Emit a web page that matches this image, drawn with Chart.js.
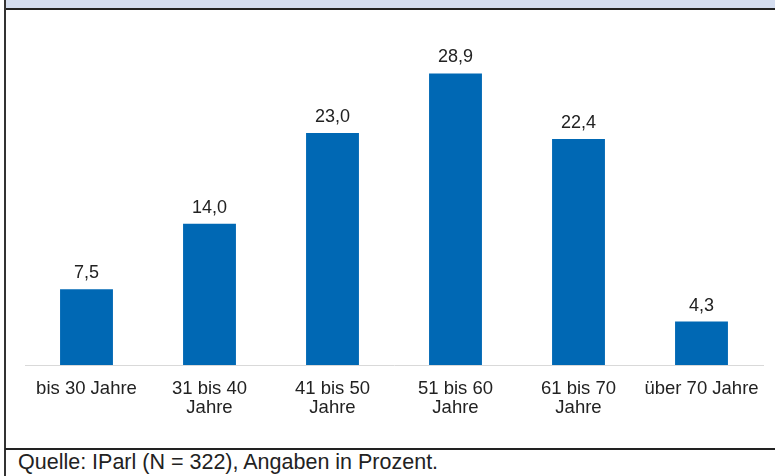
<!DOCTYPE html>
<html>
<head>
<meta charset="utf-8">
<script src="https://cdn.jsdelivr.net/npm/chart.js@4/dist/chart.umd.min.js"></script>
<style>
  body { margin: 0; background: #fff; width: 775px; height: 476px; overflow: hidden; position: relative; font-family: "Liberation Sans", Arial, sans-serif; }
  #band { position: absolute; left: 5px; top: 0; width: 770px; height: 8px; background: #d4ddef; border-bottom: 2px solid #222; }
  #frame { position: absolute; left: 4px; top: 0; width: 2px; height: 476px; background: #333; }
  #sep { position: absolute; left: 5px; top: 448px; width: 770px; height: 2px; background: #222; }
  #source { position: absolute; left: 18px; top: 450px; font-size: 21.5px; color: #222; white-space: nowrap; }
  #wrap { position: absolute; left: 0; top: 10px; width: 775px; height: 438px; }
</style>
</head>
<body>
<div id="band"></div>
<div id="frame"></div>
<div id="sep"></div>
<div id="wrap"><canvas id="chart"></canvas></div>
<div id="source">Quelle: IParl (N = 322), Angaben in Prozent.</div>
<script>
var categories = [
  'bis 30 Jahre',
  ['31 bis 40', 'Jahre'],
  ['41 bis 50', 'Jahre'],
  ['51 bis 60', 'Jahre'],
  ['61 bis 70', 'Jahre'],
  'über 70 Jahre'
];
var shares = [7.5, 14.0, 23.0, 28.9, 22.4, 4.3];

// draws the value above each bar, German decimal comma
var valueLabels = {
  id: 'valueLabels',
  afterDatasetsDraw: function(chart) {
    var ctx = chart.ctx;
    var meta = chart.getDatasetMeta(0);
    ctx.save();
    ctx.font = '18px "Liberation Sans", Arial, sans-serif';
    ctx.fillStyle = '#222';
    ctx.textAlign = 'center';
    ctx.textBaseline = 'alphabetic';
    meta.data.forEach(function(bar, i) {
      ctx.fillText(shares[i].toFixed(1).replace('.', ','), bar.x, bar.y - 11);
    });
    ctx.restore();
  }
};

function drawGraph() {
  var ctx = document.getElementById('chart');
  new Chart(ctx, {
    type: 'bar',
    data: {
      labels: categories,
      datasets: [{
        data: shares,
        backgroundColor: '#0068b4',
        categoryPercentage: 1,
        barPercentage: 0.43
      }]
    },
    options: {
      responsive: true,
      maintainAspectRatio: false,
      animation: false,
      layout: { padding: { left: 25, right: 12, top: 12, bottom: 0 } },
      plugins: { legend: { display: false }, tooltip: { enabled: false } },
      scales: {
        x: {
          grid: { display: false },
          border: { display: true, color: '#d9d9d9', width: 1 },
          afterFit: function(scale) { scale.height = 83; },
          ticks: {
            color: '#222',
            padding: 6,
            maxRotation: 0,
            autoSkip: false,
            font: { family: '"Liberation Sans", Arial, sans-serif', size: 18.5, lineHeight: 1.05 }
          }
        },
        y: {
          display: false,
          min: 0,
          max: 34
        }
      }
    },
    plugins: [valueLabels]
  });
}
drawGraph();
</script>
</body>
</html>
